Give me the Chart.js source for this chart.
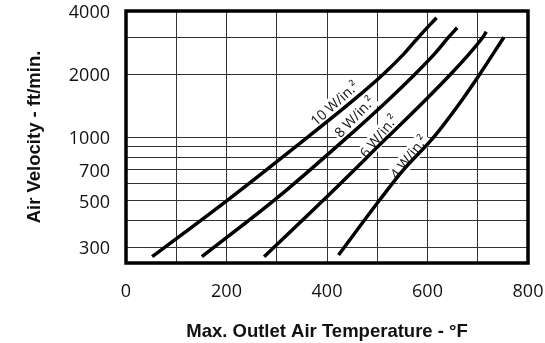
<!DOCTYPE html>
<html>
<head>
<meta charset="utf-8">
<script src="https://cdn.jsdelivr.net/npm/chart.js@4/dist/chart.umd.min.js"></script>
<style>
  html, body { margin: 0; padding: 0; background: #fff; }
</style>
</head>
<body>
<canvas id="myChart" width="545" height="343"></canvas>
<script>
// curves: outlet temp (°F) vs air velocity (ft/min)
const temp10 = [52, 201, 361, 452, 512, 553, 582, 618];
const vel10 = [270, 500, 1000, 1500, 2000, 2500, 3000, 3716];
const temp8 = [151, 300, 440, 521, 575, 614, 642, 659];
const vel8 = [270, 513, 1000, 1500, 2000, 2500, 3000, 3330];
const temp6 = [275, 392, 520, 595, 646, 683, 710, 717];
const vel6 = [270, 500, 1000, 1500, 2000, 2500, 3000, 3185];
const temp4 = [423, 504, 552, 612, 668, 704, 752];
const vel4 = [275, 500, 700, 1000, 1500, 2000, 3000];

const curveNames = ["10 W/in.²", "8 W/in.²", "6 W/in.²", "4 W/in.²"];

// axis ticks
const xLabels = [0, 200, 400, 600, 800];
const yGrid = [300, 400, 500, 600, 700, 800, 900, 1000, 2000, 3000, 4000];
const yLabels = [300, 500, 700, 1000, 2000, 4000];

// where the curve names sit (data coords) and their slant
const nameAt = [[416, 1440], [456, 1243], [504, 1007], [564, 801]];
const nameAngle = [-42, -46, -51, -52];

function MakePoints(xs, ys) {
  return xs.map((x, i) => ({ x: x, y: ys[i] }));
}

function MakeDataset(name, xs, ys) {
  return {
    label: name,
    data: MakePoints(xs, ys),
    borderColor: "#000",
    borderWidth: 3.5,
    pointRadius: 0,
    fill: false,
    cubicInterpolationMode: "monotone"
  };
}

const labelFont = "14px 'Open Sans'";

// white boxes under the names go before the lines, text after
const curveNamePlugin = {
  id: "curveNames",
  beforeDatasetsDraw(chart) {
    const ctx = chart.ctx;
    ctx.save();
    ctx.font = labelFont;
    curveNames.forEach((name, i) => {
      const px = chart.scales.x.getPixelForValue(nameAt[i][0]);
      const py = chart.scales.y.getPixelForValue(nameAt[i][1]);
      const w = ctx.measureText(name).width;
      ctx.save();
      ctx.translate(px, py);
      ctx.rotate(nameAngle[i] * Math.PI / 180);
      ctx.fillStyle = "#fff";
      ctx.fillRect(-w / 2 - 2, -9, w + 4, 17);
      ctx.restore();
    });
    ctx.restore();
  },
  afterDatasetsDraw(chart) {
    const ctx = chart.ctx;
    ctx.save();
    ctx.font = labelFont;
    ctx.fillStyle = "#111";
    ctx.textAlign = "center";
    ctx.textBaseline = "middle";
    curveNames.forEach((name, i) => {
      const px = chart.scales.x.getPixelForValue(nameAt[i][0]);
      const py = chart.scales.y.getPixelForValue(nameAt[i][1]);
      ctx.save();
      ctx.translate(px, py);
      ctx.rotate(nameAngle[i] * Math.PI / 180);
      ctx.fillText(name, 0, 0);
      ctx.restore();
    });
    ctx.restore();
  }
};

// heavy frame round the plot
const framePlugin = {
  id: "frame",
  afterDraw(chart) {
    const a = chart.chartArea;
    const ctx = chart.ctx;
    ctx.save();
    ctx.strokeStyle = "#000";
    ctx.lineWidth = 3.5;
    ctx.strokeRect(a.left, a.top, a.right - a.left, a.bottom - a.top);
    ctx.restore();
  }
};

function CreateChart() {
  const ctx = document.getElementById("myChart");
  return new Chart(ctx, {
    type: "line",
    data: {
      datasets: [
        MakeDataset(curveNames[0], temp10, vel10),
        MakeDataset(curveNames[1], temp8, vel8),
        MakeDataset(curveNames[2], temp6, vel6),
        MakeDataset(curveNames[3], temp4, vel4)
      ]
    },
    options: {
      responsive: false,
      animation: false,
      layout: { padding: { top: 11, right: 17, left: 0, bottom: 0 } },
      plugins: {
        legend: { display: false },
        tooltip: { enabled: false }
      },
      scales: {
        x: {
          type: "linear",
          min: 0,
          max: 800,
          afterFit: (scale) => {
            scale.height = 80;
            scale.paddingLeft = 0;
            scale.paddingRight = 0;
          },
          grid: { color: "#333", lineWidth: 1, drawTicks: false },
          border: { display: false },
          ticks: {
            stepSize: 100,
            autoSkip: false,
            maxRotation: 0,
            padding: 18,
            color: "#111",
            font: { family: "'Open Sans'", size: 18 },
            callback: (v) => xLabels.includes(v) ? String(v) : ""
          },
          title: {
            display: true,
            text: "Max. Outlet Air Temperature - °F",
            color: "#111",
            font: { family: "'Liberation Sans'", size: 18.5, weight: "bold" },
            padding: { top: 0, bottom: 0 }
          }
        },
        y: {
          type: "logarithmic",
          min: 252,
          max: 4000,
          afterFit: (scale) => {
            scale.width = 126;
            scale.paddingTop = 0;
            scale.paddingBottom = 0;
          },
          afterBuildTicks: (scale) => {
            scale.ticks = yGrid.map(v => ({ value: v }));
          },
          grid: { color: "#333", lineWidth: 1, drawTicks: false },
          border: { display: false },
          ticks: {
            autoSkip: false,
            padding: 16,
            labelOffset: 2,
            color: "#111",
            font: { family: "'Open Sans'", size: 18 },
            callback: (v) => yLabels.includes(v) ? String(v) : ""
          },
          title: {
            display: true,
            text: "Air Velocity - ft/min.",
            color: "#111",
            font: { family: "'Liberation Sans'", size: 18.5, weight: "bold" },
            padding: { top: 24, bottom: 0 }
          }
        }
      }
    },
    plugins: [curveNamePlugin, framePlugin]
  });
}

CreateChart();
</script>
</body>
</html>
